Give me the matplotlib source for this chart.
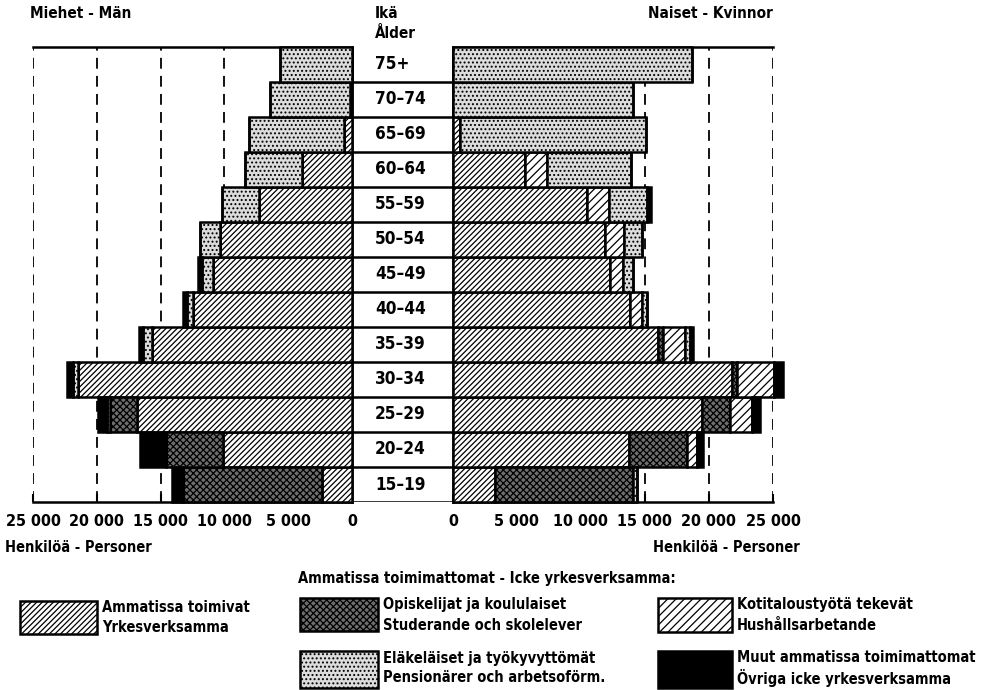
import matplotlib
matplotlib.use('Agg')
import matplotlib.pyplot as plt
from matplotlib import font_manager
from matplotlib.font_manager import FontProperties
from matplotlib.patches import Rectangle

plt.rcParams['hatch.linewidth'] = 0.9

# look for a narrow bold face, the print uses a condensed grotesque
narrow = None
for f in font_manager.fontManager.ttflist:
    nm = (f.name + ' ' + f.fname).lower()
    is_narrow = ('narrow' in nm or 'condensed' in nm or
                 f.stretch in ('condensed', 'semi-condensed', 'extra-condensed'))
    is_bold = str(f.weight) in ('bold', '700', '600', 'semibold', 'demibold')
    if is_narrow and is_bold:
        narrow = f.fname
        break

def fp(size):
    if narrow:
        return FontProperties(fname=narrow, size=size)
    return FontProperties(family='DejaVu Sans', weight='bold', size=size * 0.84)

ages = ['15–19', '20–24', '25–29', '30–34', '35–39', '40–44', '45–49',
        '50–54', '55–59', '60–64', '65–69', '70–74', '75+']

# men, from centre outwards
men_working = [2370, 10130, 16870, 21450, 15700, 12440, 10870, 10320, 7310, 3920, 650, 150, 0]
men_students = [10900, 4470, 2090, 0, 0, 0, 0, 0, 0, 0, 0, 0, 0]
men_household = [0, 0, 0, 0, 0, 0, 0, 0, 0, 0, 0, 0, 0]
men_pension = [0, 0, 250, 440, 650, 520, 860, 1620, 2870, 4440, 7440, 6250, 5620]
men_other = [830, 2010, 700, 470, 310, 310, 310, 0, 0, 0, 0, 0, 0]

# women
women_working = [3280, 13780, 19430, 21770, 16040, 13830, 12270, 11880, 10440, 5620, 520, 0, 0]
women_students = [10760, 4480, 2210, 440, 390, 0, 0, 0, 0, 0, 0, 0, 0]
women_household = [0, 780, 1690, 2890, 1690, 910, 1040, 1480, 1770, 1690, 0, 0, 0]
women_pension = [310, 0, 0, 0, 400, 390, 780, 1380, 2970, 6560, 14580, 14040, 18650]
women_other = [0, 520, 650, 700, 250, 0, 0, 0, 300, 0, 0, 0, 0]

ticks = [0, 5000, 10000, 15000, 20000, 25000]
tick_labels = ['0', '5 000', '10 000', '15 000', '20 000', '25 000']

legend_labels = [
    ('Ammatissa toimivat', 'Yrkesverksamma'),
    ('Opiskelijat ja koululaiset', 'Studerande och skolelever'),
    ('Kotitaloustyötä tekevät', 'Hushållsarbetande'),
    ('Eläkeläiset ja työkyvyttömät', 'Pensionärer och arbetsoförm.'),
    ('Muut ammatissa toimimattomat', 'Övriga icke yrkesverksamma'),
]

styles = [
    dict(facecolor='white', hatch='//////'),
    dict(facecolor='#6e6e6e', hatch='xxxxx'),
    dict(facecolor='white', hatch='////'),
    dict(facecolor='#dcdcdc', hatch='....'),
    dict(facecolor='black', hatch=None),
]

W, H = 987, 690
fig = plt.figure(figsize=(W / 100, H / 100), dpi=100)

def frac(x0, y0, x1, y1):
    return [x0 / W, 1 - y1 / H, (x1 - x0) / W, (y1 - y0) / H]

axL = fig.add_axes(frac(33, 47, 352, 502))
axC = fig.add_axes(frac(352, 47, 453, 502))
axR = fig.add_axes(frac(453, 47, 773, 502))

y = list(range(len(ages)))

def stack(ax, series):
    left = [0] * len(ages)
    for vals, st in zip(series, styles):
        ax.barh(y, vals, left=left, height=1.0, edgecolor='black',
                linewidth=1.8, zorder=3, clip_on=False, **st)
        left = [a + b for a, b in zip(left, vals)]

stack(axL, [men_working, men_students, men_household, men_pension, men_other])
stack(axR, [women_working, women_students, women_household, women_pension, women_other])

for ax, side in ((axL, 'left'), (axR, 'right')):
    ax.set_ylim(-0.5, len(ages) - 0.5)
    ax.set_xlim(0, 25000)
    ax.set_yticks([])
    ax.set_xticks(ticks)
    ax.set_xticklabels(tick_labels, fontproperties=fp(11.5))
    ax.tick_params(axis='x', direction='in', length=6, width=1.5, pad=9)
    ax.grid(axis='x', color='black', linestyle=(0, (6, 4)), linewidth=1.3)
    ax.set_axisbelow(True)
    ax.spines[side].set_visible(False)
    for s in ax.spines.values():
        s.set_linewidth(1.8)
axL.invert_xaxis()

axC.set_ylim(-0.5, len(ages) - 0.5)
axC.set_xlim(0, 1)
axC.axis('off')
axC.hlines([i - 0.5 for i in y], 0, 1, color='black', linewidth=1.8)
for i, lab in enumerate(ages):
    axC.text(0.23, i, lab, ha='left', va='center', fontproperties=fp(12.3))

# overlay in pixel units for headings and legend
ov = fig.add_axes([0, 0, 1, 1], zorder=-1)
ov.set_xlim(0, W)
ov.set_ylim(H, 0)
ov.axis('off')

ov.text(30, 14, 'Miehet - Män', fontproperties=fp(11), va='center')
ov.text(375, 13, 'Ikä', fontproperties=fp(11), va='center')
ov.text(375, 34, 'Ålder', fontproperties=fp(11), va='center')
ov.text(773, 14, 'Naiset - Kvinnor', fontproperties=fp(11), va='center', ha='right')
ov.text(5, 548, 'Henkilöä - Personer', fontproperties=fp(10.5), va='center')
ov.text(800, 548, 'Henkilöä - Personer', fontproperties=fp(10.5), va='center', ha='right')
ov.text(298, 578, 'Ammatissa toimimattomat - Icke yrkesverksamma:',
        fontproperties=fp(10.5), va='center')

boxes = [(20, 601, 97, 634), (300, 598, 378, 631), (658, 598, 732, 632),
         (300, 651, 378, 688), (658, 651, 732, 688)]
for (x0, y0, x1, y1), st, (l1, l2) in zip(boxes, styles, legend_labels):
    ov.add_patch(Rectangle((x0, y0), x1 - x0, y1 - y0, edgecolor='black',
                           linewidth=1.8, **st))
    ov.text(x1 + 5, y0 + 7, l1, fontproperties=fp(10.5), va='center')
    ov.text(x1 + 5, y0 + 27, l2, fontproperties=fp(10.5), va='center')

fig.savefig('out.png', dpi=100)
